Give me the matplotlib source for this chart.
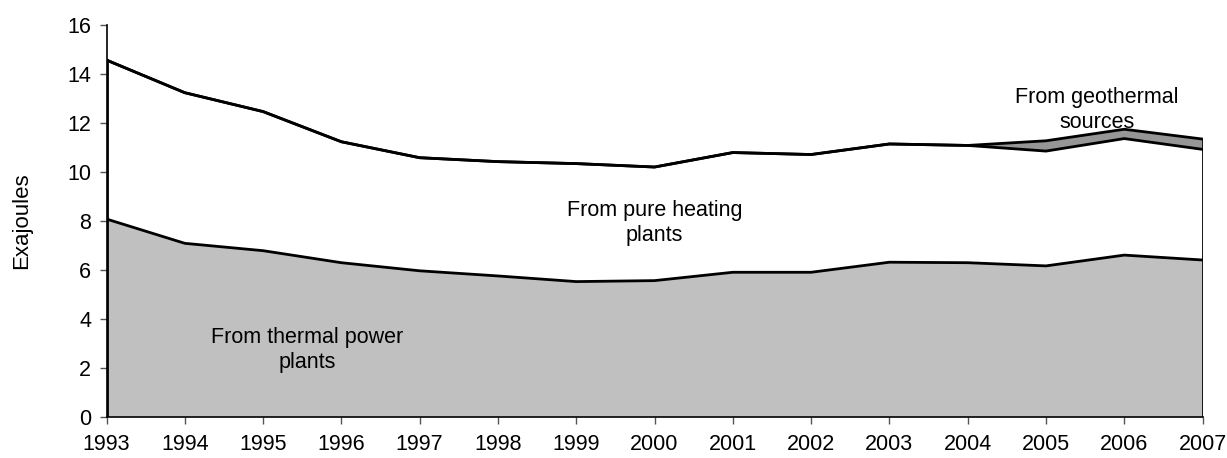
import matplotlib
matplotlib.use("Agg")
import matplotlib.pyplot as plt
import numpy as np

plt.rcParams['font.family'] = ['Liberation Sans', 'DejaVu Sans']

years = [1993, 1994, 1995, 1996, 1997, 1998, 1999, 2000,
         2001, 2002, 2003, 2004, 2005, 2006, 2007]
thermal = [8.07, 7.08, 6.78, 6.29, 5.96, 5.75, 5.52, 5.56,
           5.90, 5.90, 6.31, 6.29, 6.16, 6.60, 6.40]
heating = [6.48, 6.14, 5.67, 4.93, 4.61, 4.66, 4.81, 4.63,
           4.88, 4.80, 4.82, 4.78, 4.68, 4.75, 4.51]
geothermal = [0.0, 0.0, 0.0, 0.0, 0.0, 0.0, 0.0, 0.0,
              0.0, 0.0, 0.0, 0.0, 0.42, 0.38, 0.42]
yticks = [0, 2, 4, 6, 8, 10, 12, 14, 16]

x = np.array(years)
t = np.array(thermal)
h = t + np.array(heating)
g = h + np.array(geothermal)

fig = plt.figure(figsize=(12.27, 4.58), dpi=100)
ax = fig.add_axes([0.0868, 0.0895, 0.8933, 0.857])

lw = 2.0
ax.fill_between(x, 0, t, facecolor='#C0C0C0', edgecolor='none', zorder=1)
ax.fill_between(x, t, h, facecolor='white', edgecolor='none', zorder=1)
ax.fill_between(x, h, g, facecolor='#969696', edgecolor='none', zorder=1)
ax.plot(x, t, color='black', lw=lw, solid_joinstyle='round', zorder=3)
ax.plot(x, h, color='black', lw=lw, solid_joinstyle='round', zorder=3)
ax.plot(x, g, color='black', lw=lw, solid_joinstyle='round', zorder=3)
ax.plot([x[-1], x[-1]], [0, g[-1]], color='black', lw=lw, zorder=3)
ax.plot([x[0], x[0]], [0, g[0]], color='black', lw=lw, zorder=3)

ax.set_xlim(years[0], years[-1])
ax.set_ylim(0, 16)
ax.set_xticks(years)
ax.set_xticklabels([str(y) for y in years])
ax.set_yticks(yticks)
ax.set_yticklabels([str(v) for v in yticks])

for side in ['top', 'right']:
    ax.spines[side].set_visible(False)
ax.spines['left'].set_linewidth(1.2)
ax.spines['bottom'].set_linewidth(1.2)
ax.tick_params(axis='both', labelsize=15.5, direction='out', length=5,
               width=1.0, color='#555555')
ax.tick_params(axis='y', pad=6)
ax.tick_params(axis='x', pad=7)
ax.set_ylabel('Exajoules', fontsize=16)
ax.yaxis.set_label_coords(-0.068, 0.5)

fs = 15.5
ax.text(1995.56, 2.73, 'From thermal power\nplants', ha='center', va='center',
        fontsize=fs, linespacing=1.25, zorder=4)
ax.text(2000.0, 7.9, 'From pure heating\nplants', ha='center', va='center',
        fontsize=fs, linespacing=1.25, zorder=4)
ax.text(2005.65, 12.5, 'From geothermal\nsources', ha='center', va='center',
        fontsize=fs, linespacing=1.25, zorder=4)

fig.savefig('out.png', dpi=100)
